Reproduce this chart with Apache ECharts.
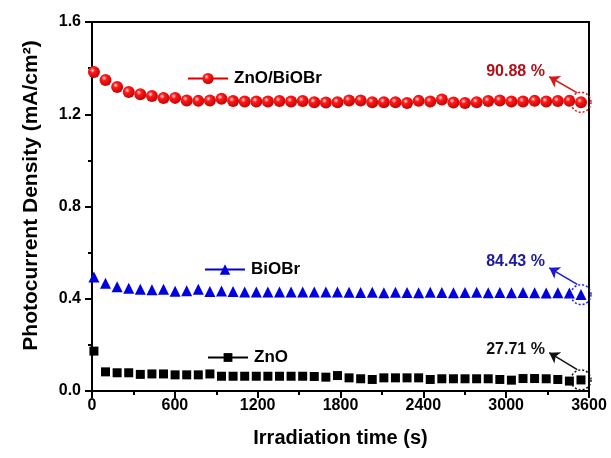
<!DOCTYPE html>
<html>
<head>
<meta charset="utf-8">
<script src="https://cdn.jsdelivr.net/npm/echarts@6/dist/echarts.min.js"></script>
<style>
html,body{margin:0;padding:0;background:#fff;}
#chart{width:611px;height:458px;}
</style>
</head>
<body>
<div id="chart"></div>
<script>
// Irradiation times (s)
var times = [14, 98, 182, 266, 350, 434, 518, 602, 686, 770, 854, 938, 1022, 1106, 1190,
  1274, 1358, 1442, 1526, 1610, 1694, 1778, 1862, 1946, 2030, 2114, 2198, 2282, 2366,
  2450, 2534, 2618, 2702, 2786, 2870, 2954, 3038, 3122, 3206, 3290, 3374, 3458, 3542];

var znoBiobr = [1.383, 1.349, 1.318, 1.296, 1.287, 1.279, 1.270, 1.271, 1.260, 1.258, 1.260,
  1.267, 1.257, 1.255, 1.255, 1.255, 1.257, 1.255, 1.257, 1.252, 1.251, 1.252,
  1.260, 1.260, 1.252, 1.252, 1.252, 1.249, 1.258, 1.255, 1.264, 1.251, 1.249,
  1.252, 1.257, 1.260, 1.255, 1.255, 1.258, 1.255, 1.257, 1.258, 1.252];

var biobr = [0.494, 0.467, 0.452, 0.445, 0.441, 0.439, 0.441, 0.432, 0.435, 0.441, 0.431,
  0.434, 0.431, 0.429, 0.429, 0.429, 0.429, 0.429, 0.429, 0.429, 0.429, 0.429,
  0.428, 0.427, 0.428, 0.426, 0.428, 0.427, 0.426, 0.428, 0.427, 0.426, 0.427,
  0.428, 0.426, 0.427, 0.426, 0.427, 0.426, 0.425, 0.426, 0.425, 0.418];

var zno = [0.173, 0.083, 0.079, 0.079, 0.072, 0.074, 0.074, 0.070, 0.070, 0.070, 0.074,
  0.064, 0.064, 0.064, 0.064, 0.064, 0.064, 0.064, 0.064, 0.063, 0.060, 0.067,
  0.057, 0.053, 0.050, 0.057, 0.057, 0.057, 0.057, 0.050, 0.053, 0.053, 0.053,
  0.053, 0.053, 0.050, 0.047, 0.054, 0.054, 0.053, 0.050, 0.043, 0.048];

var seriesNames = ['ZnO/BiOBr', 'BiOBr', 'ZnO'];
var retention = ['90.88 %', '84.43 %', '27.71 %'];
var xTicks = [0, 600, 1200, 1800, 2400, 3000, 3600];
var yTicks = [0.0, 0.4, 0.8, 1.2, 1.6];

function pairs(vals) { return times.map(function (t, i) { return [t, vals[i]]; }); }

var FONT = '"Liberation Sans", Arial, sans-serif';
var redBall = new echarts.graphic.RadialGradient(0.38, 0.35, 0.7, [
  {offset: 0, color: '#ffe0e0'},
  {offset: 0.3, color: '#ff1a1a'},
  {offset: 1, color: '#c00000'}
]);

function annot(lastVal, color, textColor, label, textY, arrowStartY, arrowEndY, circleColor) {
  var lastT = times[times.length - 1];
  return {
    markLine: {
      silent: true,
      symbol: ['none', 'arrow'],
      symbolSize: 10,
      label: {show: false},
      lineStyle: {color: color, width: 1.5, type: 'solid'},
      data: [[{coord: [lastT - 27, arrowStartY]}, {coord: [3312, arrowEndY]}]],
      animation: false
    },
    markPoint: {
      silent: true,
      animation: false,
      data: [
        {coord: [lastT, lastVal], symbol: 'circle', symbolSize: 20,
          itemStyle: {color: 'rgba(0,0,0,0)', borderColor: circleColor, borderWidth: 1.5, borderType: [2, 2]},
          label: {show: false}},
        {coord: [3068, textY], symbol: 'circle', symbolSize: 0,
          label: {show: true, position: 'inside', formatter: label, color: textColor,
            fontFamily: FONT, fontWeight: 'bold', fontSize: 16}}
      ]
    }
  };
}

var chart = echarts.init(document.getElementById('chart'), null, {renderer: 'canvas'});

var s1 = Object.assign({
  name: seriesNames[0], type: 'line', data: pairs(znoBiobr),
  symbol: 'circle', symbolSize: 12, showSymbol: true,
  lineStyle: {opacity: 0, color: '#e00000', width: 2},
  itemStyle: {color: redBall}, z: 3
}, annot(znoBiobr[42], '#d81818', '#b0101a', retention[0], 1.383, 1.293, 1.3625, '#e01010'));

var s2 = Object.assign({
  name: seriesNames[1], type: 'line', data: pairs(biobr),
  symbol: 'triangle', symbolSize: 11,
  lineStyle: {opacity: 0, color: '#0000dd', width: 2},
  itemStyle: {color: '#0000e0'}, z: 3
}, annot(biobr[42], '#1a1ad0', '#1a1a9a', retention[1], 0.559, 0.462, 0.534, '#2020e0'));

var s3 = Object.assign({
  name: seriesNames[2], type: 'line', data: pairs(zno),
  symbol: 'rect', symbolSize: 9,
  lineStyle: {opacity: 0, color: '#000', width: 2},
  itemStyle: {color: '#000'}, z: 3
}, annot(zno[42], '#111', '#111', retention[2], 0.180, 0.093, 0.166, '#111'));

function legendFor(name, left, top, h) {
  return {
    data: [name], left: left, top: top, padding: 0, itemWidth: 40, itemHeight: h,
    itemGap: 0, selectedMode: false,
    lineStyle: {opacity: 1, width: 2},
    textStyle: {fontFamily: FONT, fontSize: 17, fontWeight: 'bold', color: '#000', padding: [0, 0, 0, 1]}
  };
}

chart.setOption({
  animation: false,
  backgroundColor: '#fff',
  grid: {left: 92, right: 22, top: 22, bottom: 67, show: true, borderColor: '#000', borderWidth: 2, containLabel: false},
  legend: [
    legendFor(seriesNames[0], 187, 70, 14),
    legendFor(seriesNames[1], 204, 261, 13),
    legendFor(seriesNames[2], 207, 349, 11)
  ],
  xAxis: {
    type: 'value', min: xTicks[0], max: xTicks[xTicks.length - 1], interval: 600,
    name: 'Irradiation time (s)', nameLocation: 'middle', nameGap: 37,
    nameTextStyle: {fontFamily: FONT, fontSize: 20, fontWeight: 'bold', color: '#000'},
    axisLine: {lineStyle: {color: '#000', width: 2}},
    axisTick: {show: true, inside: false, length: 7, lineStyle: {width: 2, color: '#000'}},
    minorTick: {show: true, splitNumber: 2, length: 4, lineStyle: {width: 2, color: '#000'}},
    splitLine: {show: false},
    axisLabel: {fontFamily: FONT, fontSize: 16, fontWeight: 'bold', color: '#000', margin: 7,
      formatter: function (v) { return String(v); }}
  },
  yAxis: {
    type: 'value', min: yTicks[0], max: yTicks[yTicks.length - 1], interval: 0.4,
    name: 'Photocurrent Density (mA/cm²)', nameLocation: 'middle', nameGap: 50,
    nameTextStyle: {fontFamily: FONT, fontSize: 21, fontWeight: 'bold', color: '#000', padding: [0, 0, 0, 22]},
    axisLine: {lineStyle: {color: '#000', width: 2}},
    axisTick: {show: true, inside: false, length: 7, lineStyle: {width: 2, color: '#000'}},
    minorTick: {show: true, splitNumber: 2, length: 4, lineStyle: {width: 2, color: '#000'}},
    splitLine: {show: false},
    axisLabel: {fontFamily: FONT, fontSize: 16, fontWeight: 'bold', color: '#000', margin: 11,
      formatter: function (v) { return v.toFixed(1); }}
  },
  series: [s1, s2, s3]
});
</script>
</body>
</html>
